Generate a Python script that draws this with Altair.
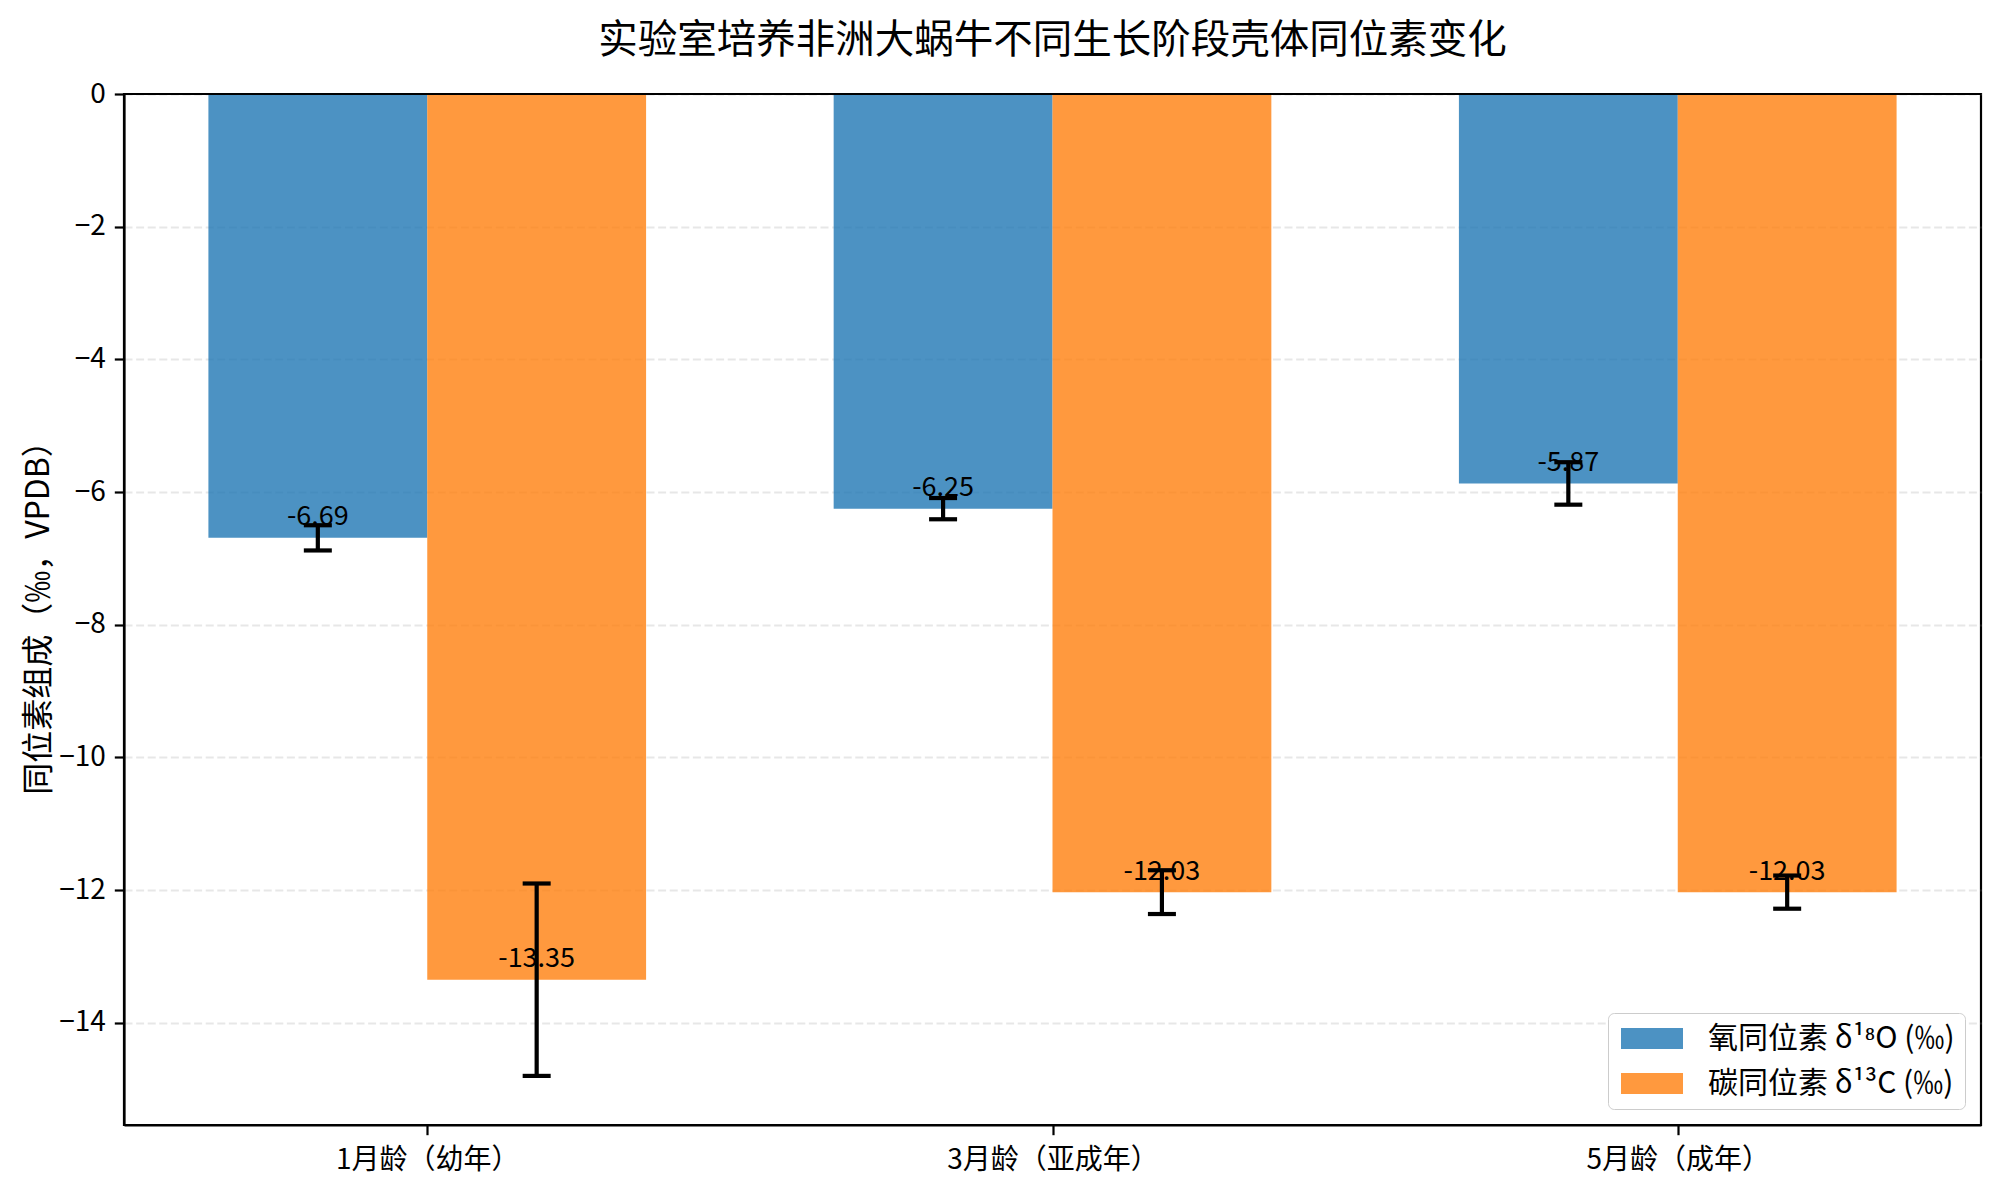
import json
import altair as alt
import pandas as pd

# ---- data ----
stages = ["1月龄（幼年）", "3月龄（亚成年）", "5月龄（成年）"]
series_names = ["氧同位素 δ¹⁸O (‰)", "碳同位素 δ¹³C (‰)"]
oxygen_mean = [-6.69, -6.25, -5.87]
oxygen_err = [0.19, 0.16, 0.32]
carbon_mean = [-13.35, -12.03, -12.03]
carbon_err = [1.45, 0.33, 0.25]
series_colors = ["#1f77b4", "#ff7f0e"]
y_ticks = [-14, -12, -10, -8, -6, -4, -2, 0]

FONT = "Noto Sans CJK SC"
BAR_W = 0.35

rows = []
for i, st in enumerate(stages):
    rows.append(dict(stage=st, idx=i, series=series_names[0], side=-1,
                     mean=oxygen_mean[i], err=oxygen_err[i]))
    rows.append(dict(stage=st, idx=i, series=series_names[1], side=1,
                     mean=carbon_mean[i], err=carbon_err[i]))
df = pd.DataFrame(rows)

x_scale = alt.Scale(domain=[-0.485, 2.485], nice=False, zero=False)
y_scale = alt.Scale(domain=[-15.54, 0], nice=False, zero=False)

x_axis = alt.Axis(
    values=[0, 1, 2],
    labelExpr=f"{json.dumps(stages, ensure_ascii=False)}[datum.value]",
    labelLimit=500,
    grid=False, tickSize=9.7, tickWidth=2.2, tickColor="black",
    labelPadding=12, labelFontSize=28, labelFont=FONT, labelColor="black",
    domainColor="black", domainWidth=2.2,
)
y_axis = alt.Axis(
    values=y_ticks,
    labelExpr="replace(format(datum.value, 'd'), '-', '\u2212')",
    title="同位素组成（‰，VPDB）",
    titleFont=FONT, titleFontSize=32, titleFontWeight="normal", titleColor="black",
    titleX=-86, titleY=515.5, titleAngle=270, titleAlign="center", titleBaseline="middle",
    grid=True, gridDash=[8, 3.6], gridColor="#b0b0b0", gridOpacity=0.3, gridWidth=2.2,
    tickSize=9.7, tickWidth=2.2, tickColor="black",
    labelPadding=9, labelFontSize=28, labelFont=FONT, labelColor="black",
    domainColor="black", domainWidth=2.2,
)

base = alt.Chart(df).transform_calculate(
    xc=f"datum.idx + datum.side * {BAR_W / 2}",
    xl=f"datum.idx + datum.side * {BAR_W / 2} - {BAR_W / 2}",
    xr=f"datum.idx + datum.side * {BAR_W / 2} + {BAR_W / 2}",
    lo="datum.mean - datum.err",
    hi="datum.mean + datum.err",
    label="replace(format(datum.mean, '.2f'), '\u2212', '-')",
)

bars = base.mark_bar(opacity=0.8).encode(
    x=alt.X("xl:Q", scale=x_scale, axis=x_axis, title=None),
    x2="xr:Q",
    y=alt.Y("mean:Q", scale=y_scale, axis=y_axis),
    y2=alt.datum(0),
    color=alt.Color(
        "series:N",
        scale=alt.Scale(domain=series_names, range=series_colors),
        title=None,
        legend=alt.Legend(
            orient="bottom-right", offset=16,
            fillColor="white", strokeColor="#cccccc", cornerRadius=6, padding=10,
            symbolType="M-2,-0.68H2V0.68H-2Z", symbolSize=961,
            symbolOffset=18.5, symbolStrokeWidth=0, symbolOpacity=0.8,
            labelOffset=40.5, labelFontSize=30, labelFont=FONT, labelColor="black",
            rowPadding=14, labelLimit=600,
        ),
    ),
)

# top spine drawn over the bars (bars start at the top edge y = 0)
top_spine = alt.Chart(df).mark_rule(color="black", strokeWidth=2.2).encode(
    y=alt.Y(datum=0, scale=y_scale, axis=y_axis),
)

err_rule = base.mark_rule(color="black", strokeWidth=4.2).encode(
    x=alt.X("xc:Q", scale=x_scale, axis=x_axis, title=None),
    y=alt.Y("lo:Q", scale=y_scale, axis=y_axis),
    y2="hi:Q",
)

cap_lo = base.mark_tick(orient="horizontal", size=28, thickness=4.2,
                        color="black", opacity=1).encode(
    x=alt.X("xc:Q", scale=x_scale, axis=x_axis, title=None),
    y=alt.Y("lo:Q", scale=y_scale, axis=y_axis),
)
cap_hi = base.mark_tick(orient="horizontal", size=28, thickness=4.2,
                        color="black", opacity=1).encode(
    x=alt.X("xc:Q", scale=x_scale, axis=x_axis, title=None),
    y=alt.Y("hi:Q", scale=y_scale, axis=y_axis),
)

labels = base.mark_text(baseline="alphabetic", dy=-12.6, fontSize=27,
                        font=FONT, color="black").encode(
    x=alt.X("xc:Q", scale=x_scale, axis=x_axis, title=None),
    y=alt.Y("mean:Q", scale=y_scale, axis=y_axis),
    text="label:N",
)

chart = alt.layer(bars, top_spine, err_rule, cap_lo, cap_hi, labels).properties(
    width=1857,
    height=1031,
    title=alt.TitleParams(
        "实验室培养非洲大蜗牛不同生长阶段壳体同位素变化",
        font=FONT, fontSize=39.5, fontWeight="normal", color="black",
        anchor="middle", baseline="middle", frame="group", offset=0,
    ),
    autosize=alt.AutoSizeParams(type="none"),
    padding={"left": 116, "top": 86, "right": 11, "bottom": 60},
    background="white",
).configure_view(
    stroke="black", strokeWidth=2.2,
)

chart.save("out.html", embed_options={"renderer": "svg", "actions": False})
